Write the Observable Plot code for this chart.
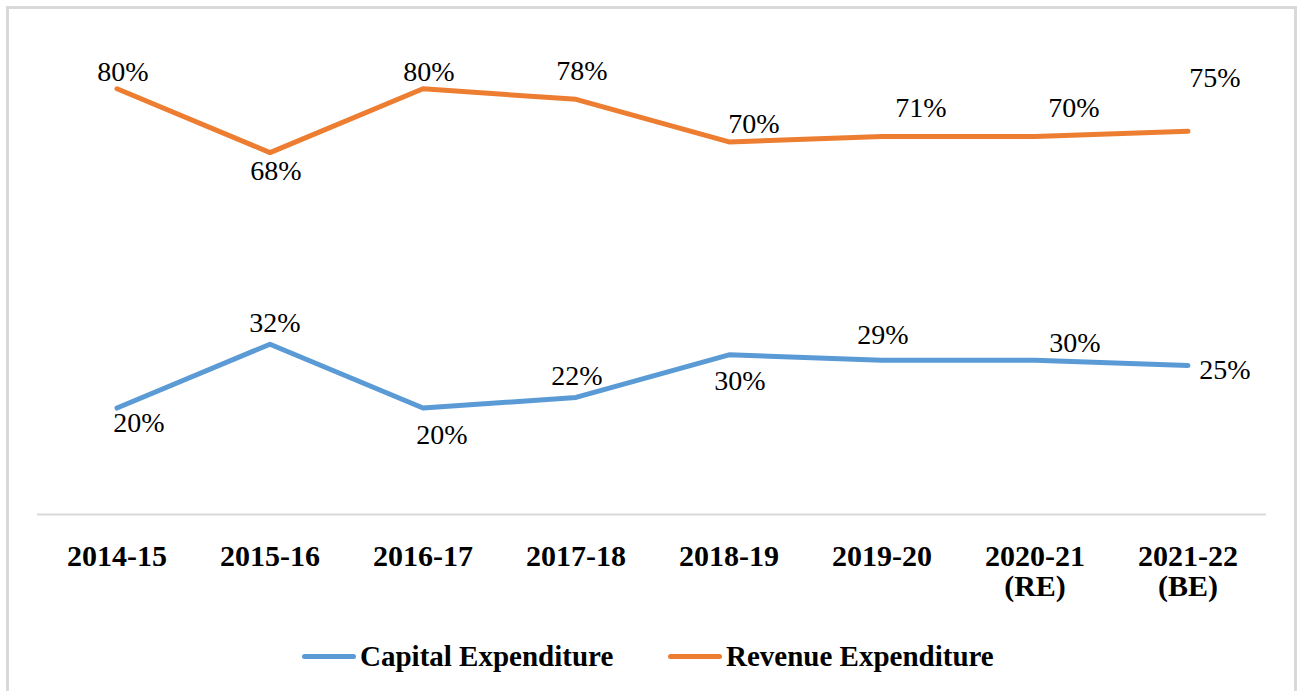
<!DOCTYPE html>
<html>
<head>
<meta charset="utf-8">
<script src="https://cdn.jsdelivr.net/npm/d3@7"></script>
<script src="https://cdn.jsdelivr.net/npm/@observablehq/plot@0.6"></script>
<style>
  html, body { margin: 0; padding: 0; background: #fff; }
  #wrap { position: relative; width: 1298px; height: 691px; overflow: hidden; font-family: "Liberation Serif", serif; }
  #frame { position: absolute; left: 6px; top: 6px; width: 1285px; height: 720px; border: 3px solid #d9d9d9; border-bottom: none; }
  #chart { position: absolute; left: 0; top: 0; }
  #legend { position: absolute; left: 0; top: 636px; width: 1298px; height: 40px; }
  .item { position: absolute; top: 0; display: flex; align-items: center; height: 40px; font-weight: bold; font-size: 29px; color: #000; }
  .sw { display: inline-block; width: 54px; height: 5px; border-radius: 3px; margin-right: 4px; }
</style>
</head>
<body>
<div id="wrap">
  <div id="frame"></div>
  <div id="chart"></div>
  <div id="legend"></div>
</div>
<script>
const years = ["2014-15", "2015-16", "2016-17", "2017-18", "2018-19", "2019-20", "2020-21\n(RE)", "2021-22\n(BE)"];
const seriesNames = ["Capital Expenditure", "Revenue Expenditure"];
const capitalValues = [20, 32, 20, 22, 30, 29, 29, 28];
const revenueValues = [80, 68, 80, 78, 70, 71, 71, 72];
const capitalLabels = ["20%", "32%", "20%", "22%", "30%", "29%", "30%", "25%"];
const revenueLabels = ["80%", "68%", "80%", "78%", "70%", "71%", "70%", "75%"];
const colors = ["#5B9BD5", "#ED7D31"];

// label placement nudges (layout only)
const capitalNudge = [[22, 15], [5, -21], [19, 27], [1, -21], [11, 26], [1, -25], [40, -17], [37, 5]];
const revenueNudge = [[6, -17], [6, 18], [6, -17], [6, -28], [25, -18], [39, -29], [39, -29], [27, -53]];

const rows = [];
years.forEach((yr, i) => {
  rows.push({year: yr, series: seriesNames[0], value: capitalValues[i], label: capitalLabels[i], nudge: capitalNudge[i]});
  rows.push({year: yr, series: seriesNames[1], value: revenueValues[i], label: revenueLabels[i], nudge: revenueNudge[i]});
});

const labelMarks = rows.map(d => Plot.text([d], {
  x: "year", y: "value", text: "label",
  dx: d.nudge[0], dy: d.nudge[1],
  fontSize: 28, fill: "#000", lineAnchor: "middle", textAnchor: "middle"
}));

const plot = Plot.plot({
  width: 1298,
  height: 620,
  marginLeft: 37,
  marginRight: 32,
  marginTop: 35,
  marginBottom: 106,
  style: {fontFamily: "Liberation Serif", background: "transparent", overflow: "visible"},
  x: {domain: years, type: "band", padding: 0, label: null},
  y: {domain: [0, 90], axis: null},
  color: {domain: seriesNames, range: colors},
  marks: [
    Plot.ruleY([0], {stroke: "#d9d9d9", strokeWidth: 2}),
    Plot.axisX({tickSize: 0, tickPadding: 30, fontSize: 30, fontWeight: "bold", fill: "#000", label: null, lineHeight: 1.0}),
    Plot.line(rows, {x: "year", y: "value", z: "series", stroke: "series", strokeWidth: 5, strokeLinecap: "round", strokeLinejoin: "round"}),
    ...labelMarks
  ]
});
document.getElementById("chart").appendChild(plot);

const legend = document.getElementById("legend");
const legendLeft = [302, 668];
seriesNames.forEach((name, i) => {
  const item = document.createElement("div");
  item.className = "item";
  item.style.left = legendLeft[i] + "px";
  const sw = document.createElement("span");
  sw.className = "sw";
  sw.style.background = colors[i];
  item.appendChild(sw);
  item.appendChild(document.createTextNode(name));
  legend.appendChild(item);
});
</script>
</body>
</html>
